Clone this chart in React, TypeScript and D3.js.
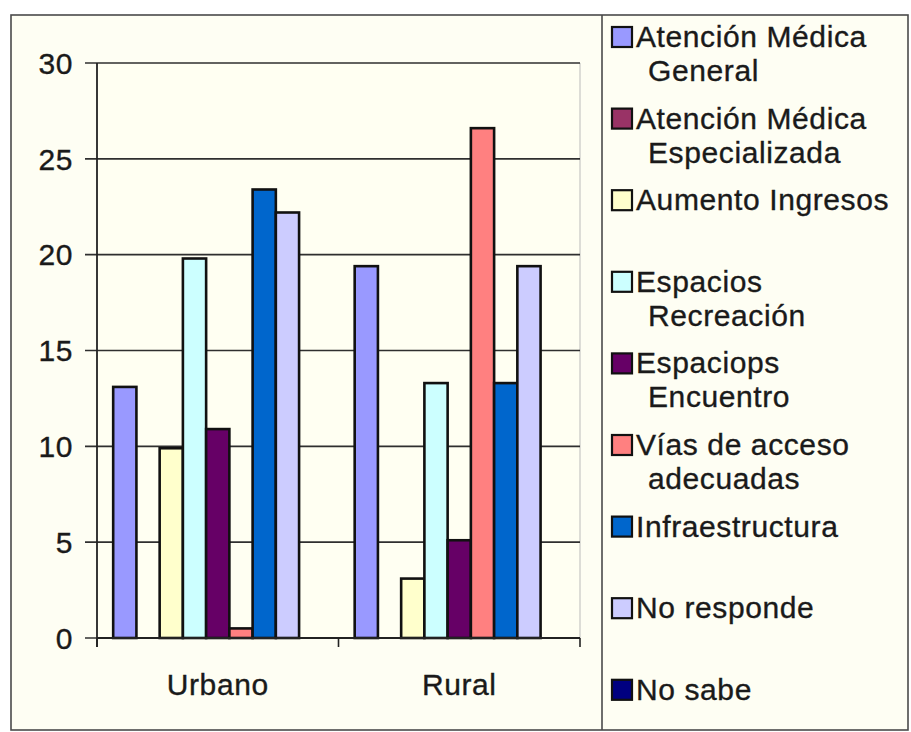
import React from "react";
import * as d3 from "d3";

const categories = ["Urbano", "Rural"];
const seriesNames = [
  "Atención Médica\nGeneral",
  "Atención Médica\nEspecializada",
  "Aumento Ingresos",
  "Espacios\nRecreación",
  "Espaciops\nEncuentro",
  "Vías de acceso\nadecuadas",
  "Infraestructura",
  "No responde",
  "No sabe",
];
const seriesColors = [
  "#9999FF",
  "#993366",
  "#FFFFCC",
  "#CCFFFF",
  "#660066",
  "#FF8080",
  "#0066CC",
  "#CCCCFF",
  "#000080",
];
const urbanoValues = [13.1, 0, 9.9, 19.8, 10.9, 0.5, 23.4, 22.2, 0];
const ruralValues = [19.4, 0, 3.1, 13.3, 5.1, 26.6, 13.3, 19.4, 0];
const yTicks = [0, 5, 10, 15, 20, 25, 30];

const W = 911;
const H = 732;
const plot = { left: 97, right: 580, top: 63, bottom: 638 };
const FONT = "'Liberation Sans', Arial, sans-serif";
const textStyle = {
  fontFamily: FONT,
  fontSize: 30,
  fill: "#1a1a1a",
  stroke: "#1a1a1a",
  strokeWidth: 0.35,
  letterSpacing: "0.6px",
};

export default function App() {
  const values = [urbanoValues, ruralValues];
  const y = d3.scaleLinear().domain([0, 30]).range([plot.bottom, plot.top]);
  const x0 = d3
    .scaleBand<string>()
    .domain(categories)
    .range([plot.left, plot.right])
    .paddingInner(0.134)
    .paddingOuter(0.067);
  const x1 = d3
    .scaleBand<number>()
    .domain(d3.range(seriesNames.length))
    .range([0, x0.bandwidth()]);
  const step = x0.step();
  const catEdges = [plot.left, plot.left + step, plot.left + 2 * step];

  const legendBase0 = 47;
  const legendStep = 81.6;

  return (
    <svg
      width={W}
      height={H}
      style={{ position: "absolute", left: 0, top: 0, background: "#FFFFFF" }}
    >
      <rect x={0} y={0} width={W} height={H} fill="#FFFFFF" />
      <rect x={11} y={15} width={897} height={715} fill="#FEFEF3" stroke="#4a4a4a" strokeWidth={1.6} />
      <line x1={602} x2={602} y1={15} y2={730} stroke="#4a4a4a" strokeWidth={1.6} />

      {/* plot background */}
      <rect
        x={plot.left}
        y={plot.top}
        width={plot.right - plot.left}
        height={plot.bottom - plot.top}
        fill="#FFFFF2"
      />
      <line x1={plot.right} x2={plot.right} y1={plot.top} y2={plot.bottom} stroke="#bbbbbb" strokeWidth={1} />

      {/* gridlines */}
      {yTicks.map((t) => (
        <line
          key={"g" + t}
          x1={plot.left - 12}
          x2={plot.right}
          y1={y(t)}
          y2={y(t)}
          stroke="#2f2f2f"
          strokeWidth={1.6}
        />
      ))}

      {/* bars */}
      {categories.map((c, ci) => (
        <g key={c} transform={`translate(${x0(c)},0)`}>
          {values[ci].map((v, si) =>
            v > 0 ? (
              <rect
                key={si}
                x={x1(si)}
                y={y(v)}
                width={x1.bandwidth()}
                height={y(0) - y(v)}
                fill={seriesColors[si]}
                stroke="#111111"
                strokeWidth={2.6}
              />
            ) : null
          )}
        </g>
      ))}

      {/* axes */}
      <line x1={plot.left} x2={plot.left} y1={plot.top} y2={plot.bottom + 9} stroke="#222" strokeWidth={1.8} />
      <line x1={plot.left} x2={plot.right} y1={plot.bottom} y2={plot.bottom} stroke="#222" strokeWidth={1.8} />
      {catEdges.map((e, i) => (
        <line key={"xt" + i} x1={e} x2={e} y1={plot.bottom} y2={plot.bottom + 9} stroke="#222" strokeWidth={1.6} />
      ))}
      {yTicks.map((t) => (
        <text
          key={"yl" + t}
          x={73}
          y={y(t)}
          dy="0.36em"
          textAnchor="end"
          style={textStyle}
        >
          {t}
        </text>
      ))}
      {categories.map((c) => (
        <text
          key={"xl" + c}
          x={(x0(c) as number) + x0.bandwidth() / 2}
          y={695}
          textAnchor="middle"
          style={textStyle}
        >
          {c}
        </text>
      ))}

      {/* legend */}
      {seriesNames.map((name, i) => {
        const base = legendBase0 + i * legendStep;
        const lines = name.split("\n");
        return (
          <g key={"lg" + i}>
            <rect
              x={612}
              y={base - 20}
              width={20}
              height={20}
              fill={seriesColors[i]}
              stroke="#111"
              strokeWidth={2.2}
            />
            <text style={textStyle}>
              {lines.map((ln, li) => (
                <tspan key={li} x={li === 0 ? 636 : 648} y={base + li * 34}>
                  {ln}
                </tspan>
              ))}
            </text>
          </g>
        );
      })}
    </svg>
  );
}
